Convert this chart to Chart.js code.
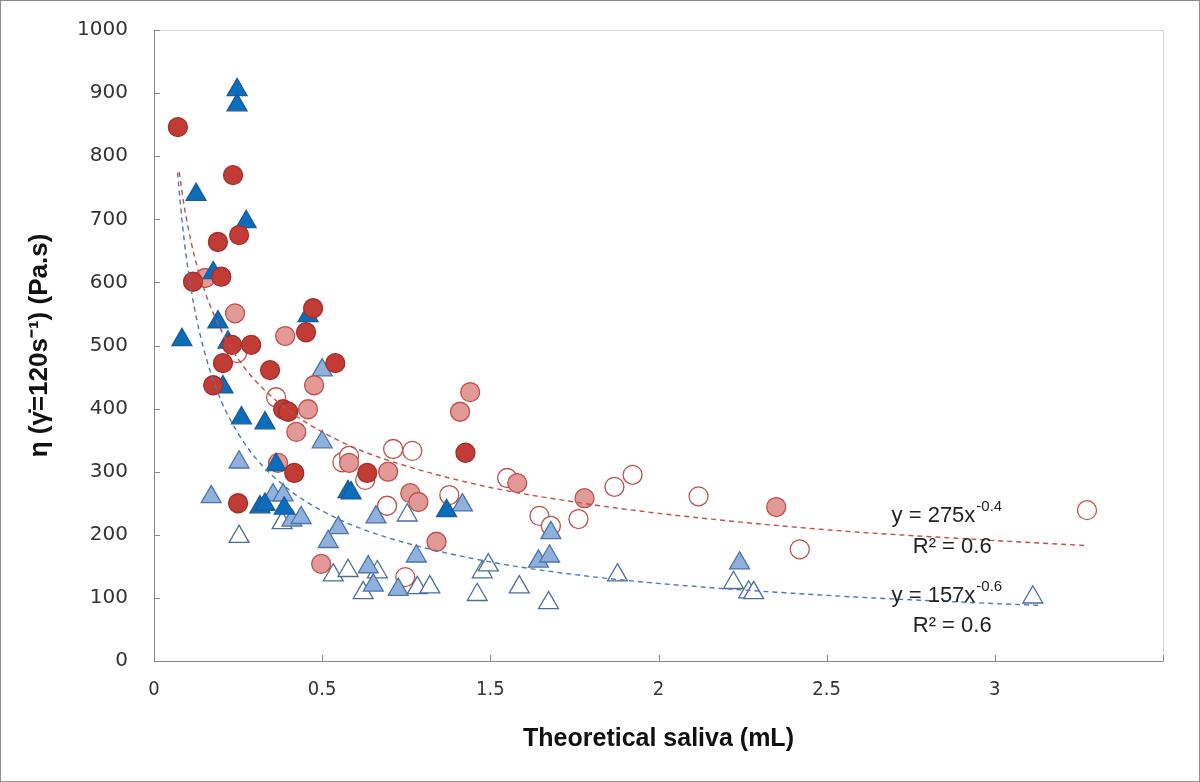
<!DOCTYPE html>
<html>
<head>
<meta charset="utf-8">
<script src="https://cdn.jsdelivr.net/npm/chart.js@4.4.1/dist/chart.umd.min.js"></script>
<style>
    html, body { margin: 0; padding: 0; background: #fff; }
    #wrap { width: 1200px; height: 782px; position: relative; }
</style>
</head>
<body>
<div id="wrap"><canvas id="salivaChart" width="1200" height="782"></canvas></div>
<script>
// 数据
const darkRedX = [0.071, 0.235, 0.19, 0.253, 0.116, 0.2, 0.232, 0.289, 0.345, 0.473, 0.452, 0.539, 0.176, 0.205, 0.384, 0.399, 0.417, 0.25, 0.634, 0.926];
const darkRedY = [846, 770, 664, 675, 601, 609, 501, 501, 461, 559, 521, 472, 437, 472, 399, 395, 298, 250, 298, 330];

const lightRedX = [0.152, 0.241, 0.39, 0.476, 0.458, 0.423, 0.369, 0.58, 0.696, 0.762, 0.786, 0.94, 0.91, 0.84, 0.497, 1.08, 1.28, 1.85];
const lightRedY = [607, 551, 515, 437, 399, 363, 314, 314, 300, 266, 252, 426, 395, 189, 154, 282, 258, 244];

const openRedX = [0.247, 0.363, 0.56, 0.58, 0.628, 0.711, 0.768, 0.693, 0.878, 0.747, 1.05, 1.146, 1.18, 1.262, 1.369, 1.423, 1.619, 1.92, 2.774];
const openRedY = [488, 418, 315, 325, 287, 336, 333, 246, 263, 133, 290, 230, 214, 225, 276, 295, 261, 177, 239];

const darkBlueX = [0.083, 0.125, 0.274, 0.247, 0.247, 0.176, 0.19, 0.22, 0.205, 0.26, 0.33, 0.363, 0.315, 0.33, 0.387, 0.458, 0.577, 0.586, 0.87];
const darkBlueY = [509, 739, 696, 905, 881, 615, 537, 505, 434, 385, 377, 311, 244, 248, 242, 547, 268, 266, 238];

const lightBlueX = [0.17, 0.253, 0.5, 0.5, 0.354, 0.384, 0.41, 0.4375, 0.548, 0.518, 0.637, 0.652, 0.726, 0.78, 0.917, 0.66, 1.143, 1.176, 1.18, 1.741];
const lightBlueY = [260, 315, 347, 461, 263, 263, 223, 227, 211, 189, 149, 120, 113, 166, 247, 228, 158, 166, 203, 155];

const openBlueX = [0.253, 0.381, 0.533, 0.577, 0.664, 0.622, 0.783, 0.82, 0.753, 0.976, 0.994, 0.961, 1.086, 1.173, 1.378, 1.723, 1.768, 1.783, 2.613];
const openBlueY = [197, 219, 136, 143, 141, 108, 116, 117, 231, 141, 152, 105, 117, 92, 136, 124, 109, 108, 101];

// 趋势线 (读自图中虚线)
const redTrendX = [0.075, 0.09, 0.1, 0.12, 0.15, 0.2, 0.25, 0.3, 0.4, 0.5, 0.6, 0.75, 1, 1.25, 1.5, 2, 2.5, 2.77];
const redTrendY = [775, 720, 691, 642, 587, 524, 479, 445, 397, 363, 337, 309, 275, 252, 234, 208, 191, 183];
const blueTrendX = [0.07, 0.085, 0.1, 0.12, 0.15, 0.2, 0.25, 0.3, 0.4, 0.5, 0.6, 0.75, 1, 1.25, 1.5, 2, 2.5, 2.64];
const blueTrendY = [774, 689, 625, 560, 490, 412, 361, 323, 272, 238, 213, 187, 157, 137, 123, 104, 91, 88];

// 坐标轴文字
const xTickText = ['0', '0.5', '1.5', '2', '2.5', '3', ''];
const xTitle = 'Theoretical saliva (mL)';
const yTitle = 'η (γ̇=120s⁻¹) (Pa.s)';

// 趋势线公式标注
const eqText = ['y = 275x', 'R² = 0.6', 'y = 157x', 'R² = 0.6'];
const eqSup = ['-0.4', '', '-0.6', ''];
const eqX = [2.193, 2.256, 2.193, 2.256];
const eqY = [230, 180, 103, 55];

const pts = (xs, ys) => xs.map((x, i) => ({ x: x, y: ys[i] }));

const labelFont = '"Liberation Sans", Arial, sans-serif';

// 边框、坐标轴、刻度和公式
const decoPlugin = {
    id: 'deco',
    beforeDatasetsDraw(chart) {
        const { ctx, chartArea: a } = chart;
        ctx.save();
        ctx.strokeStyle = '#d4d4d4';
        ctx.lineWidth = 1;
        ctx.strokeRect(a.left + 0.5, a.top + 0.5, a.right - a.left, a.bottom - a.top);
        ctx.restore();
    },
    afterDatasetsDraw(chart) {
        const { ctx, chartArea: a, scales } = chart;
        ctx.save();
        ctx.strokeStyle = '#868686';
        ctx.lineWidth = 1;
        ctx.beginPath();
        ctx.moveTo(a.left + 0.5, a.top);
        ctx.lineTo(a.left + 0.5, a.bottom + 0.5);
        ctx.lineTo(a.right, a.bottom + 0.5);
        scales.x.ticks.forEach(t => {
            const px = Math.round(scales.x.getPixelForValue(t.value)) + 0.5;
            ctx.moveTo(px, a.bottom);
            ctx.lineTo(px, a.bottom - 6);
        });
        scales.y.ticks.forEach(t => {
            const py = Math.round(scales.y.getPixelForValue(t.value)) + 0.5;
            ctx.moveTo(a.left, py);
            ctx.lineTo(a.left + 6, py);
        });
        ctx.stroke();

        ctx.fillStyle = '#222';
        ctx.textBaseline = 'middle';
        eqText.forEach((txt, i) => {
            const px = scales.x.getPixelForValue(eqX[i]);
            const py = scales.y.getPixelForValue(eqY[i]);
            ctx.font = '22px ' + labelFont;
            ctx.fillText(txt, px, py);
            if (eqSup[i]) {
                const w = ctx.measureText(txt).width;
                ctx.font = '15px ' + labelFont;
                ctx.fillText(eqSup[i], px + w + 1, py - 9);
            }
        });

        // 外框
        ctx.strokeStyle = '#8c8c8c';
        ctx.strokeRect(0.5, 0.5, chart.width - 1, chart.height - 1);
        ctx.restore();
    }
};

const markerSet = (label, xs, ys, style, fill, border, order) => ({
    label: label,
    data: pts(xs, ys),
    pointStyle: style,
    pointRadius: style === 'circle' ? 9.5 : 11.5,
    pointBackgroundColor: fill,
    pointBorderColor: border,
    pointBorderWidth: 1.3,
    showLine: false,
    order: order
});

const trendSet = (label, xs, ys, color) => ({
    label: label,
    data: pts(xs, ys),
    showLine: true,
    pointRadius: 0,
    borderColor: color,
    borderWidth: 1.4,
    borderDash: [5, 4],
    cubicInterpolationMode: 'monotone',
    fill: false,
    order: 0
});

new Chart(document.getElementById('salivaChart'), {
    type: 'scatter',
    data: {
        datasets: [
            trendSet('red fit', redTrendX, redTrendY, '#c0504d'),
            trendSet('blue fit', blueTrendX, blueTrendY, '#4f77b0'),
            markerSet('open blue', openBlueX, openBlueY, 'triangle', '#ffffff', '#4a6d9c', 6),
            markerSet('open red', openRedX, openRedY, 'circle', '#ffffff', '#c0504d', 5),
            markerSet('light blue', lightBlueX, lightBlueY, 'triangle', '#8fb1dc', '#4a74ab', 4),
            markerSet('light red', lightRedX, lightRedY, 'circle', '#e29a96', '#c0504d', 3),
            markerSet('dark blue', darkBlueX, darkBlueY, 'triangle', '#0a6ebd', '#1d5a96', 2),
            markerSet('dark red', darkRedX, darkRedY, 'circle', '#c23b34', '#a0302b', 1)
        ]
    },
    options: {
        responsive: false,
        animation: false,
        devicePixelRatio: 1,
        layout: { padding: { left: 0, top: 30, right: 37, bottom: 0 } },
        plugins: {
            legend: { display: false },
            tooltip: { enabled: false }
        },
        scales: {
            x: {
                type: 'linear',
                min: 0,
                max: 3,
                // 刻度线由插件绘制, tickLength 只用来留出标签间距
                grid: { display: false, drawTicks: true, tickLength: 17 },
                border: { display: false },
                ticks: {
                    stepSize: 0.5,
                    autoSkip: false,
                    maxRotation: 0,
                    padding: 0,
                    color: '#333',
                    font: { family: '"Liberation Sans Narrow", "DejaVu Sans Condensed", "Liberation Sans", sans-serif', size: 20 },
                    callback: (v, i) => xTickText[i]
                },
                title: {
                    display: true,
                    text: xTitle,
                    color: '#111',
                    font: { family: labelFont, size: 25, weight: 'bold' },
                    padding: { top: 0, bottom: 28 }
                },
                afterFit: s => { s.height = 121; }
            },
            y: {
                min: 0,
                max: 1000,
                grid: { display: false, drawTicks: true, tickLength: 26 },
                border: { display: false },
                ticks: {
                    stepSize: 100,
                    padding: 0,
                    color: '#333',
                    font: { family: '"DejaVu Sans", Verdana, sans-serif', size: 20 },
                    callback: v => String(v)
                },
                title: {
                    display: true,
                    text: yTitle,
                    color: '#111',
                    font: { family: labelFont, size: 26, weight: 'bold' },
                    padding: { top: 24, bottom: 0 }
                },
                afterFit: s => { s.width = 154; }
            }
        }
    },
    plugins: [decoPlugin]
});
</script>
</body>
</html>
